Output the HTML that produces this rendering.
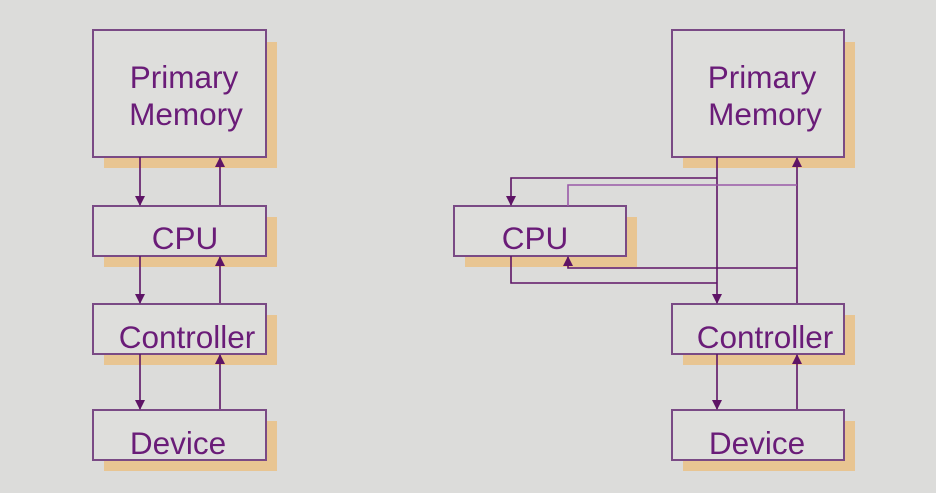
<!DOCTYPE html>
<html><head><meta charset="utf-8"><style>
html,body{margin:0;padding:0;background:#dcdcda;}
svg{display:block;}
text{font-family:"Liberation Sans",Arial,sans-serif;font-size:31.5px;fill:#6a1c78;}
</style></head><body>
<svg width="936" height="493" viewBox="0 0 936 493" xmlns="http://www.w3.org/2000/svg">
<defs>
<marker id="a" markerWidth="10" markerHeight="10" refX="9" refY="5" orient="auto" markerUnits="userSpaceOnUse">
<path d="M0,0 L10,5 L0,10 z" fill="#5e1466"/>
</marker>
</defs>
<rect width="936" height="493" fill="#dcdcda"/>
<g fill="#e8c592">
<rect x="104" y="42" width="173" height="126"/>
<rect x="104" y="217" width="173" height="50"/>
<rect x="104" y="315" width="173" height="50"/>
<rect x="104" y="421" width="173" height="50"/>
<rect x="683" y="42" width="172" height="126"/>
<rect x="465" y="217" width="172" height="50"/>
<rect x="683" y="315" width="172" height="50"/>
<rect x="683" y="421" width="172" height="50"/>
</g>
<g fill="#dededc" stroke="#7a4a85" stroke-width="2">
<rect x="93" y="30" width="173" height="127"/>
<rect x="93" y="206" width="173" height="50"/>
<rect x="93" y="304" width="173" height="50"/>
<rect x="93" y="410" width="173" height="50"/>
<rect x="672" y="30" width="172" height="127"/>
<rect x="454" y="206" width="172" height="50"/>
<rect x="672" y="304" width="172" height="50"/>
<rect x="672" y="410" width="172" height="50"/>
</g>
<g stroke="#5e1466" stroke-width="1.6" fill="none">
<line x1="140" y1="157" x2="140" y2="205" marker-end="url(#a)"/>
<line x1="220" y1="205" x2="220" y2="158" marker-end="url(#a)"/>
<line x1="140" y1="256" x2="140" y2="303" marker-end="url(#a)"/>
<line x1="220" y1="303" x2="220" y2="257" marker-end="url(#a)"/>
<line x1="140" y1="354" x2="140" y2="409" marker-end="url(#a)"/>
<line x1="220" y1="409" x2="220" y2="355" marker-end="url(#a)"/>
<line x1="717" y1="157" x2="717" y2="303" marker-end="url(#a)"/>
<line x1="797" y1="303" x2="797" y2="158" marker-end="url(#a)"/>
<line x1="717" y1="354" x2="717" y2="409" marker-end="url(#a)"/>
<line x1="797" y1="409" x2="797" y2="355" marker-end="url(#a)"/>
<polyline points="717,178 511,178 511,205" marker-end="url(#a)"/>
<polyline points="797,185 568,185 568,206" stroke="#9a5aa8"/>
<polyline points="797,268 568,268 568,257" marker-end="url(#a)"/>
<polyline points="511,256 511,283 717,283"/>
</g>
<text x="184" y="88" text-anchor="middle">Primary</text>
<text x="186" y="125" text-anchor="middle">Memory</text>
<text x="185" y="249" text-anchor="middle">CPU</text>
<text x="187" y="348" text-anchor="middle">Controller</text>
<text x="178" y="454" text-anchor="middle">Device</text>
<text x="762" y="88" text-anchor="middle">Primary</text>
<text x="765" y="125" text-anchor="middle">Memory</text>
<text x="535" y="249" text-anchor="middle">CPU</text>
<text x="765" y="348" text-anchor="middle">Controller</text>
<text x="757" y="454" text-anchor="middle">Device</text>
</svg>
</body></html>
